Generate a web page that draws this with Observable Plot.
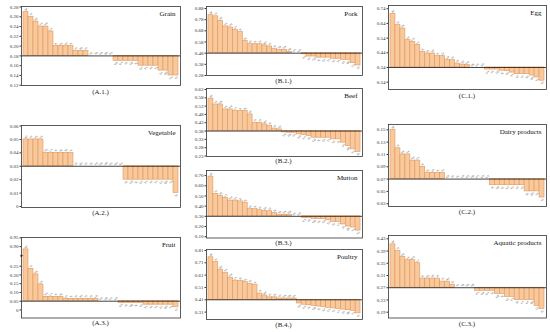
<!DOCTYPE html>
<html><head><meta charset="utf-8">
<script src="https://cdn.jsdelivr.net/npm/d3@7"></script>
<script src="https://cdn.jsdelivr.net/npm/@observablehq/plot@0.6"></script>
<style>
html,body{margin:0;padding:0;background:#fff;}
body{width:550px;height:332px;overflow:hidden;position:relative;font-family:"Liberation Serif","DejaVu Serif",serif;}
.panel{position:absolute;}
.cap{position:absolute;font-size:7px;transform:translate(-50%,-50%);color:#222;white-space:nowrap;line-height:1;}
</style></head><body>
<script>
// ---- data ----
const provinces = ["BJ","TJ","HE","SX","NM","LN","JL","HL","SH","JS","ZJ","AH","FJ","JX","SD","HA","HB","HN","GD","GX","HI","CQ","SC","GZ","YN","XZ","SN","GS","QH","NX","XJ"];

const grain = [0.27,0.26,0.25,0.24,0.24,0.23,0.20,0.20,0.20,0.20,0.19,0.19,0.19,0.18,0.18,0.18,0.18,0.18,0.17,0.17,0.17,0.17,0.17,0.16,0.16,0.16,0.16,0.15,0.15,0.14,0.14];
const vegetable = [0.05,0.05,0.05,0.05,0.04,0.04,0.04,0.04,0.04,0.04,0.03,0.03,0.03,0.03,0.03,0.03,0.03,0.03,0.03,0.03,0.02,0.02,0.02,0.02,0.02,0.02,0.02,0.02,0.02,0.02,0.01];
const fruit = [0.884,0.235,0.203,0.146,0.075,0.075,0.075,0.075,0.063,0.063,0.063,0.063,0.063,0.063,0.063,0.05,0.05,0.05,0.05,0.04,0.04,0.04,0.04,0.04,0.03,0.03,0.03,0.03,0.03,0.03,0.015];
const pork = [0.82,0.81,0.77,0.72,0.71,0.69,0.67,0.59,0.56,0.56,0.56,0.55,0.54,0.52,0.51,0.51,0.49,0.48,0.48,0.47,0.45,0.45,0.44,0.44,0.44,0.43,0.43,0.42,0.42,0.39,0.37];
const beef = [0.575,0.54,0.54,0.51,0.51,0.50,0.50,0.50,0.48,0.43,0.43,0.42,0.41,0.395,0.39,0.372,0.37,0.37,0.36,0.355,0.35,0.34,0.34,0.34,0.34,0.33,0.33,0.31,0.29,0.27,0.255];
const mutton = [0.69,0.52,0.50,0.48,0.455,0.455,0.447,0.43,0.37,0.37,0.36,0.35,0.35,0.333,0.316,0.316,0.316,0.30,0.30,0.284,0.284,0.274,0.274,0.274,0.26,0.245,0.245,0.22,0.20,0.19,0.16];
const poultry = [0.755,0.715,0.655,0.63,0.59,0.565,0.565,0.553,0.54,0.53,0.46,0.445,0.43,0.43,0.42,0.42,0.42,0.42,0.38,0.37,0.365,0.36,0.355,0.35,0.345,0.34,0.335,0.33,0.325,0.32,0.30];
const egg = [0.705,0.628,0.605,0.526,0.514,0.492,0.446,0.435,0.435,0.417,0.417,0.39,0.39,0.367,0.36,0.356,0.34,0.34,0.34,0.326,0.326,0.326,0.318,0.316,0.305,0.294,0.294,0.294,0.285,0.272,0.25];
const dairy = [0.15,0.12,0.11,0.11,0.10,0.10,0.09,0.08,0.08,0.08,0.08,0.07,0.07,0.07,0.07,0.07,0.07,0.07,0.07,0.07,0.06,0.06,0.06,0.06,0.06,0.06,0.06,0.05,0.05,0.05,0.04];
const aquatic = [0.412,0.39,0.37,0.36,0.36,0.35,0.30,0.30,0.30,0.30,0.29,0.29,0.28,0.27,0.27,0.27,0.27,0.26,0.26,0.26,0.26,0.25,0.25,0.24,0.24,0.23,0.23,0.23,0.23,0.21,0.20];

const grainTicks = [0.12,0.14,0.16,0.18,0.20,0.22,0.24,0.26,0.28];
const vegetableTicks = [0,0.01,0.02,0.03,0.04,0.05,0.06];
const fruitTicks = [0,0.05,0.10,0.15,0.20,0.25,0.90,0.95];
const porkTicks = [0.28,0.38,0.48,0.58,0.68,0.78,0.88];
const beefTicks = [0.23,0.28,0.33,0.38,0.43,0.48,0.53,0.58,0.63];
const muttonTicks = [0.10,0.20,0.30,0.40,0.50,0.60,0.70];
const poultryTicks = [0.31,0.41,0.51,0.61,0.71,0.81];
const eggTicks = [0.24,0.34,0.44,0.54,0.64,0.74];
const dairyTicks = [0.03,0.05,0.07,0.09,0.11,0.13,0.15];
const aquaticTicks = [0.19,0.23,0.27,0.31,0.35,0.39,0.43];

const baselines = {Grain:0.18, Vegetable:0.03, Fruit:0.05, Pork:0.48, Beef:0.38, Mutton:0.30, Poultry:0.41, Egg:0.34, "Dairy products":0.07, "Aquatic products":0.27};

// broken-axis scale transform for the Fruit panel (0.29 … 0.87 compressed)
const brkLo = 0.29, brkHi = 0.87, brkGap = 0.042;
const fruitTransform = v => v <= brkLo ? v : v >= brkHi ? v - brkHi + brkLo + brkGap : brkLo + (v - brkLo) / (brkHi - brkLo) * brkGap;

// ---- layout ----
const colA = [21, 180], colB = [205.5, 361.5], colC = [388, 546];
const panels = [
  {title:"Grain", cap:"(A.1.)", values:grain, ticks:grainTicks, col:colA, top:5.5, bottom:84.5, domain:[0.1195,0.281], capY:91.5},
  {title:"Vegetable", cap:"(A.2.)", values:vegetable, ticks:vegetableTicks, col:colA, top:125, bottom:207, domain:[-0.00075,0.0604], capY:213},
  {title:"Fruit", cap:"(A.3.)", values:fruit, ticks:fruitTicks, col:colA, top:236.5, bottom:317, domain:[-0.046,0.414], transform:fruitTransform, capY:323, brk:0.57},
  {title:"Pork", cap:"(B.1.)", values:pork, ticks:porkTicks, col:colB, top:6, bottom:75, domain:[0.28,0.898], capY:80.5},
  {title:"Beef", cap:"(B.2.)", values:beef, ticks:beefTicks, col:colB, top:88, bottom:156, domain:[0.227,0.636], capY:161},
  {title:"Mutton", cap:"(B.3.)", values:mutton, ticks:muttonTicks, col:colB, top:170, bottom:237.5, domain:[0.087,0.75], capY:243},
  {title:"Poultry", cap:"(B.4.)", values:poultry, ticks:poultryTicks, col:colB, top:249, bottom:319, domain:[0.25,0.818], capY:325},
  {title:"Egg", cap:"(C.1.)", values:egg, ticks:eggTicks, col:colC, top:5, bottom:89, domain:[0.19,0.762], capY:95.5},
  {title:"Dairy products", cap:"(C.2.)", values:dairy, ticks:dairyTicks, col:colC, top:124, bottom:206, domain:[0.0255,0.1586], capY:212},
  {title:"Aquatic products", cap:"(C.3.)", values:aquatic, ticks:aquaticTicks, col:colC, top:235, bottom:317.5, domain:[0.171,0.4408], capY:324}
];

const fmt = d => d === 0 ? "0" : d3.format(".2f")(d);
const FILL = "#f8c99c", EDGE = "#e2965a";

for (const p of panels) {
  const mL = 22, mR = 3, mT = 3, mB = 3;
  const [x0, x1] = p.col;
  const W = x1 - x0 + mL + mR, H = p.bottom - p.top + mT + mB;
  const base = baselines[p.title];
  const data = p.values.map((v, i) => ({i, v, lab: provinces[i]}));
  const yOpts = {domain: p.domain, range: [H - mB, mT], label: null};
  if (p.transform) yOpts.transform = p.transform;
  const marks = [
    Plot.barY(data, {x: "i", y1: () => base, y2: "v", fill: FILL, stroke: EDGE, strokeWidth: 0.6}),
    Plot.ruleY([base], {stroke: "#111", strokeWidth: 0.8}),
    Plot.text(data.filter(d => d.v >= base), {x: "i", y: "v", text: "lab", fontSize: 2.6, rotate: -40, dy: -2.5, fill: "#444"}),
    Plot.text(data.filter(d => d.v < base), {x: "i", y: "v", text: "lab", fontSize: 2.6, rotate: -40, dy: 2.5, fill: "#444"}),
    Plot.axisY(p.ticks, {tickSize: 1.5, tickPadding: 1.5, fontSize: 5, tickFormat: fmt, fill: "#333", stroke: "#333", label: null}),
    Plot.text([p.title], {frameAnchor: "top-right", dx: -5, dy: 4.5, fontSize: 7, fill: "#111"}),
    Plot.frame({stroke: "#333", strokeWidth: 0.8})
  ];
  if (p.brk !== undefined) {
    marks.push(Plot.text(["\u25B8"], {frameAnchor: "left", y: [p.brk], fontSize: 5, fontFamily: "DejaVu Sans", dx: -1, fill: "#111"}));
  }
  const chart = Plot.plot({
    width: W, height: H,
    marginLeft: mL, marginRight: mR, marginTop: mT, marginBottom: mB,
    style: {fontFamily: "'Liberation Serif', serif", background: "transparent", overflow: "visible"},
    x: {type: "band", domain: d3.range(p.values.length), paddingInner: 0, paddingOuter: 0.4, round: false, axis: null},
    y: yOpts,
    marks
  });
  const div = document.createElement("div");
  div.className = "panel";
  div.style.left = (x0 - mL) + "px";
  div.style.top = (p.top - mT) + "px";
  div.appendChild(chart);
  document.body.appendChild(div);
  const cap = document.createElement("div");
  cap.className = "cap";
  cap.textContent = p.cap;
  cap.style.left = ((x0 + x1) / 2) + "px";
  cap.style.top = p.capY + "px";
  document.body.appendChild(cap);
}
</script>
</body></html>
